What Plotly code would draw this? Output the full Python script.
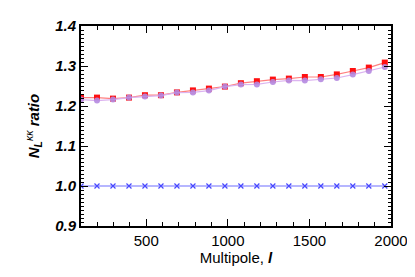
import plotly.graph_objects as go

ell = [100 + 98 * i for i in range(20)]
red_vals = [1.221, 1.221, 1.2185, 1.221, 1.227, 1.227, 1.234, 1.239, 1.2435, 1.2485,
            1.257, 1.262, 1.266, 1.2685, 1.2725, 1.2725, 1.279, 1.2875, 1.296, 1.3085]
purple_vals = [1.216, 1.2135, 1.216, 1.221, 1.2235, 1.226, 1.2335, 1.234, 1.2385, 1.2485,
               1.2535, 1.254, 1.26, 1.264, 1.2635, 1.2668, 1.27, 1.2785, 1.2875, 1.2975]
blue_vals = [1.0] * 20
x_ticks = [500, 1000, 1500, 2000]
y_ticks = [0.9, 1.0, 1.1, 1.2, 1.3, 1.4]

fig = go.Figure()
fig.add_trace(go.Scatter(x=ell, y=blue_vals, mode="lines+markers",
                         line=dict(color="#6f6fff", width=1.2),
                         marker=dict(symbol="x-thin", size=5, color="#4848ff",
                                     line=dict(color="#4848ff", width=1.2))))
fig.add_trace(go.Scatter(x=ell, y=red_vals, mode="lines+markers",
                         line=dict(color="#ff8080", width=1.2),
                         marker=dict(symbol="square", size=6, color="#ff1010")))
fig.add_trace(go.Scatter(x=ell, y=purple_vals, mode="lines+markers",
                         line=dict(color="#dcb4f0", width=1.2),
                         marker=dict(symbol="circle", size=6, color="#b58ae0", opacity=0.9)))

fig.update_layout(
    width=407, height=269,
    margin=dict(l=73, r=24, t=18, b=51),
    paper_bgcolor="white", plot_bgcolor="white",
    showlegend=False,
    font=dict(family="Liberation Sans, Arial, sans-serif", color="black"),
)
fig.update_xaxes(
    range=[100, 2000], tickvals=x_ticks, ticktext=[str(v) for v in x_ticks],
    automargin=False,
    showgrid=False, zeroline=False, showline=True, linecolor="black", linewidth=1.8,
    mirror="allticks", ticks="inside", ticklen=7, tickwidth=1, tickcolor="black",
    minor=dict(dtick=100, tick0=0, ticks="inside", ticklen=4, tickcolor="black", tickwidth=1),
    tickfont=dict(size=15),
    title=dict(text="Multipole, <b><i>l</i></b>", font=dict(size=15), standoff=5),
)
fig.update_yaxes(
    range=[0.9, 1.4], tickvals=y_ticks, ticktext=["%.1f" % v for v in y_ticks],
    automargin=False,
    showgrid=False, zeroline=False, showline=True, linecolor="black", linewidth=1.8,
    mirror="allticks", ticks="inside", ticklen=7, tickwidth=1, tickcolor="black",
    minor=dict(dtick=0.01, tick0=0.9, ticks="inside", ticklen=3, tickcolor="black", tickwidth=1),
    tickfont=dict(size=15, weight="bold", style="italic"),
    title=dict(text="<b><i>N</i></b><sub><b><i>L</i></b></sub><sup><i>κκ</i></sup> <b><i>ratio</i></b>",
               font=dict(size=15), standoff=12),
)
fig.write_html("out.html")
